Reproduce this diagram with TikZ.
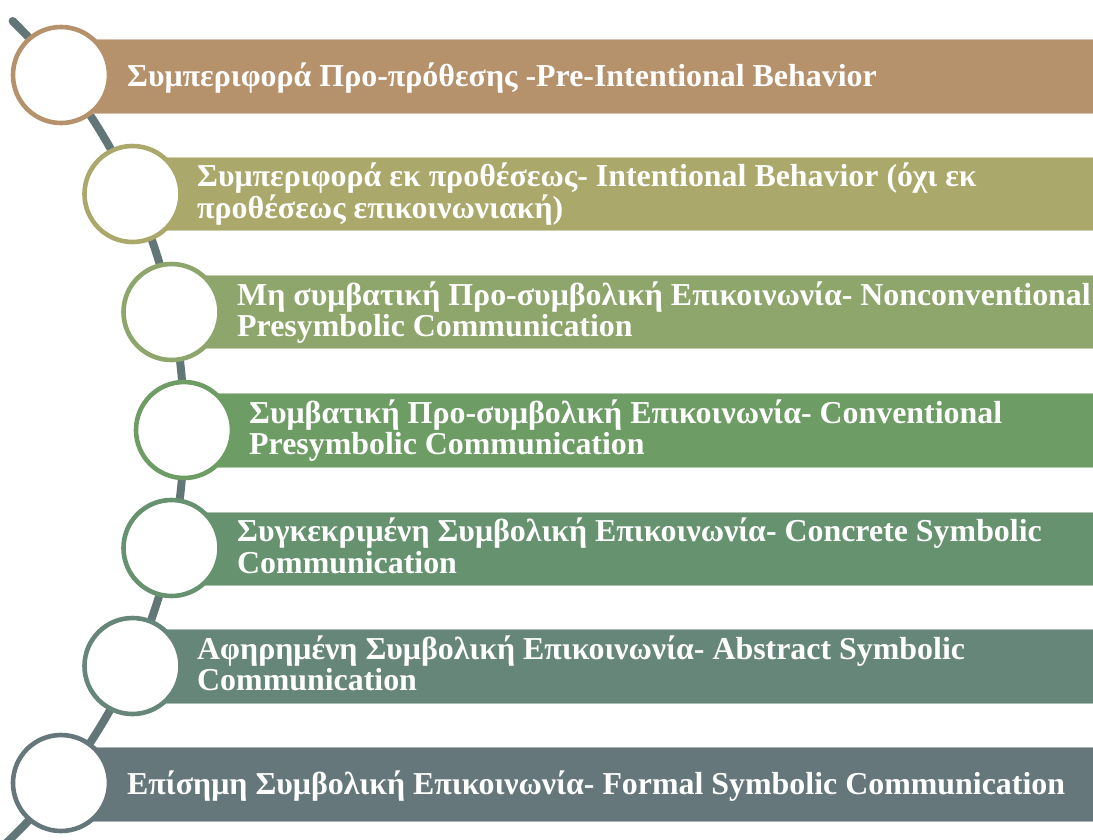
\documentclass[tikz,border=0pt]{standalone}
\usepackage{fontspec}
\setmainfont{Liberation Serif}
\definecolor{stageA}{HTML}{B5916C}
\definecolor{stageB}{HTML}{AAA86A}
\definecolor{stageC}{HTML}{8EA56B}
\definecolor{stageD}{HTML}{6E9C65}
\definecolor{stageE}{HTML}{669270}
\definecolor{stageF}{HTML}{67867A}
\definecolor{stageG}{HTML}{65777A}
\definecolor{spinecol}{HTML}{637677}
\begin{document}
\begin{tikzpicture}[x=1pt,y=-1pt,
  spine/.style={draw=spinecol, line width=8pt, line cap=round},
  bar/.style={fill=#1, draw=#1!55!white, line width=1pt},
  ring/.style={circle, fill=white, draw=#1, line width=4.6pt, minimum size=96pt, inner sep=0pt},
  label/.style={text=white, font=\bfseries\fontsize{31.9}{31.5}\selectfont, align=left, inner sep=0pt, anchor=base west}]
\useasboundingbox (0,0) rectangle (1093,839);
\clip (0,0) rectangle (1093,839);

% curved spine running through all stage markers
\coordinate (spinetop) at (12.6,21);
\draw[spine] (spinetop) arc[start angle=-45.6, end angle=50, radius=571];

% coloured stage bars
\draw[bar=stageA] (61,39)    rectangle (1100,113);
\draw[bar=stageB] (132,157)  rectangle (1100,230);
\draw[bar=stageC] (171,275)  rectangle (1100,348);
\draw[bar=stageD] (184,393)  rectangle (1100,467);
\draw[bar=stageE] (171,512)  rectangle (1100,585);
\draw[bar=stageF] (132,629)  rectangle (1100,703);
\draw[bar=stageG] (61,747)   rectangle (1100,821);

% ring markers on the spine
\node[ring=stageA] (s1) at (61,75) {};
\node[ring=stageB] (s2) at (132.5,194) {};
\node[ring=stageC] (s3) at (171.5,312) {};
\node[ring=stageD] (s4) at (184,430) {};
\node[ring=stageE] (s5) at (171.5,548) {};
\node[ring=stageF] (s6) at (132.5,666) {};
\node[ring=stageG] (s7) at (61,783) {};

% stage labels (base anchor sits on the last line)
\node[label] (t1) at (127,86) {Συμπεριφορά Προ-πρόθεσης -Pre-Intentional Behavior};
\node[label] (t2) at (197,218) {Συμπεριφορά εκ προθέσεως- Intentional Behavior (όχι εκ\\προθέσεως επικοινωνιακή)};
\node[label] (t3) at (237,336.5) {Μη συμβατική Προ-συμβολική Επικοινωνία- Nonconventional\\Presymbolic Communication};
\node[label] (t4) at (249,454.5) {Συμβατική Προ-συμβολική Επικοινωνία- Conventional\\Presymbolic Communication};
\node[label] (t5) at (237,573) {Συγκεκριμένη Συμβολική Επικοινωνία- Concrete Symbolic\\Communication};
\node[label] (t6) at (197,690.5) {Αφηρημένη Συμβολική Επικοινωνία- Abstract Symbolic\\Communication};
\node[label] (t7) at (127,794) {Επίσημη Συμβολική Επικοινωνία- Formal Symbolic Communication};
\end{tikzpicture}
\end{document}
